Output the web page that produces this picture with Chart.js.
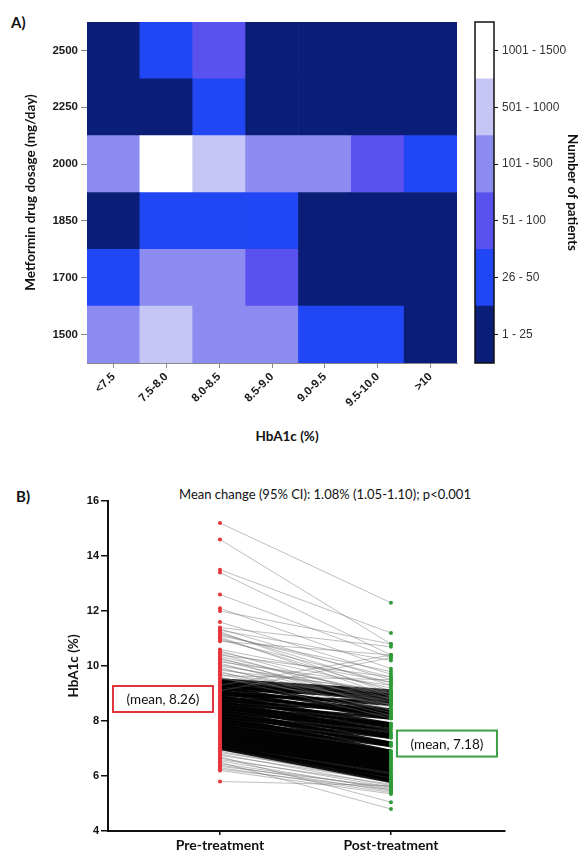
<!DOCTYPE html>
<html>
<head>
<meta charset="utf-8">
<script src="https://cdn.jsdelivr.net/npm/chart.js@4"></script>
<style>
  body { margin: 0; background: #fff; width: 581px; height: 856px; position: relative; overflow: hidden; }
  canvas { position: absolute; }
  .lbl { position: absolute; font-family: Lato, sans-serif; color: #111; white-space: nowrap; }
</style>
</head>
<body>
<div class="lbl" style="left:11px; top:13px; font-weight:bold; font-size:15px;">A)</div>
<div class="lbl" style="left:287px; top:428px; transform:translateX(-50%); font-weight:bold; font-size:13.5px;">HbA1c (%)</div>
<div class="lbl" style="left:16px; top:487px; font-weight:bold; font-size:15px;">B)</div>
<div class="lbl" style="left:325px; top:486px; transform:translateX(-50%); font-size:13px;">Mean change (95% CI): 1.08% (1.05-1.10); p&lt;0.001</div>

<div style="position:absolute; left:0; top:0; width:470px; height:460px;"><canvas id="heatmap"></canvas></div>
<div style="position:absolute; left:460px; top:0; width:121px; height:460px;"><canvas id="colorbar"></canvas></div>
<div style="position:absolute; left:0; top:470px; width:581px; height:386px;"><canvas id="paired"></canvas></div>

<script>
// Panel A: patient count bin per cell (1 = 1-25 ... 6 = 1001-1500)
const hba1cBins = ['<7.5', '7.5-8.0', '8.0-8.5', '8.5-9.0', '9.0-9.5', '9.5-10.0', '>10'];
const dosages = ['1500', '1700', '1850', '2000', '2250', '2500'];
const bins1500 = [4, 5, 4, 4, 2, 2, 1];
const bins1700 = [2, 4, 4, 3, 1, 1, 1];
const bins1850 = [1, 2, 2, 2, 1, 1, 1];
const bins2000 = [4, 6, 5, 4, 4, 3, 2];
const bins2250 = [1, 1, 2, 1, 1, 1, 1];
const bins2500 = [1, 2, 3, 1, 1, 1, 1];
const patientBins = ['1 - 25', '26 - 50', '51 - 100', '101 - 500', '501 - 1000', '1001 - 1500'];
const binColors = ['#0a1e78', '#2146f4', '#5a52ee', '#8c8cf0', '#c6c6f6', '#ffffff'];

// Panel B: HbA1c (%) pre/post pairs
const treatmentLabels = ['Pre-treatment', 'Post-treatment'];
const upperPre = [15.2, 14.6, 13.5, 13.4, 12.6, 12.1, 12.0, 11.6, 11.4, 11.35, 11.3, 11.25, 11.2, 11.15, 11.1, 11.05, 11.0, 10.95, 10.9,
  10.6, 10.55, 10.5, 10.45, 10.4, 10.35, 10.3, 10.25, 10.2, 10.15, 10.1, 10.05, 10.0, 9.95, 9.9, 9.85, 9.8, 9.75, 9.7, 9.65, 9.6, 9.55, 9.3, 9.1];
const upperPost = [12.3, 10.8, 11.2, 10.4, 10.3, 9.9, 10.8, 9.7, 10.7, 9.5, 10.2, 9.0, 9.3, 9.6, 9.8, 8.9, 9.1, 9.4, 10.4,
  9.4, 8.8, 9.2, 8.6, 9.6, 8.9, 8.4, 9.0, 8.7, 9.3, 8.5, 8.8, 9.0, 8.3, 8.6, 9.1, 8.2, 8.7, 8.4, 9.5, 8.1, 8.6, 10.4, 10.3];
const densePre = [9.5, 9.45, 9.4, 9.35, 9.3, 9.25, 9.2, 9.15, 9.1, 9.05, 9.0, 8.95, 8.9, 8.85, 8.8, 8.75, 8.7, 8.65, 8.6, 8.55, 8.5,
  8.45, 8.4, 8.35, 8.3, 8.25, 8.2, 8.15, 8.1, 8.05, 8.0, 7.95, 7.9, 7.85, 7.8, 7.75, 7.7, 7.65, 7.6, 7.55, 7.5,
  7.45, 7.4, 7.35, 7.3, 7.25, 7.2, 7.15, 7.1, 7.05, 7.0];
const densePost = [9.1, 8.7, 9.0, 8.4, 8.95, 8.8, 8.3, 8.9, 8.1, 8.6, 8.2, 8.7, 7.9, 8.4, 7.8, 8.3, 7.6, 8.1, 7.5, 7.9, 7.4,
  7.8, 7.2, 7.7, 7.1, 7.5, 6.9, 7.4, 6.8, 7.2, 6.7, 7.1, 6.6, 6.9, 6.5, 6.8, 6.4, 6.7, 6.3, 6.6, 6.2,
  6.5, 6.1, 6.4, 6.0, 6.3, 5.9, 6.2, 5.85, 6.0, 5.8];
const lowerPre = [6.95, 6.9, 6.85, 6.8, 6.75, 6.7, 6.65, 6.6, 6.55, 6.5, 6.45, 6.4, 6.35, 6.3, 6.25, 6.2, 5.8];
const lowerPost = [6.0, 5.75, 5.9, 5.65, 5.8, 5.05, 5.6, 5.7, 5.5, 4.8, 5.55, 5.45, 5.6, 5.4, 5.5, 5.35, 5.65];
const meanPre = 8.26;
const meanPost = 7.18;

Chart.defaults.font.family = "'Liberation Sans', Arial, sans-serif";
Chart.defaults.animation = false;
Chart.defaults.plugins.legend.display = false;
Chart.defaults.plugins.tooltip.enabled = false;

function centerTicks(scale) {
    // one tick in the middle of every row
    scale.ticks = dosages.map((d, i) => ({ value: i + 0.5 }));
}

// ---- heatmap ----
const rowBins = [bins1500, bins1700, bins1850, bins2000, bins2250, bins2500];
new Chart(document.getElementById('heatmap'), {
    type: 'bar',
    data: {
        labels: hba1cBins,
        datasets: rowBins.map((row, i) => ({
            label: dosages[i],
            data: row.map(() => 1),
            backgroundColor: row.map(b => binColors[b - 1]),
            borderWidth: 0,
            barPercentage: 1,
            categoryPercentage: 1
        }))
    },
    options: {
        responsive: true,
        maintainAspectRatio: false,
        layout: { padding: { top: 22, right: 13, left: 0, bottom: 0 } },
        scales: {
            x: {
                stacked: true,
                afterFit: s => { s.height = 97; },
                grid: { offset: false, drawOnChartArea: false, tickLength: 5, color: '#888' },
                border: { color: '#888' },
                ticks: { minRotation: 45, maxRotation: 45, padding: 2, color: '#1a1a1a', font: { size: 11.5, weight: 'bold' } }
            },
            y: {
                stacked: true,
                min: 0,
                max: 6,
                afterFit: s => { s.width = 87; },
                afterBuildTicks: centerTicks,
                grid: { drawOnChartArea: false, tickLength: 6, color: '#888' },
                border: { color: '#888' },
                ticks: { padding: 3, color: '#1a1a1a', font: { size: 11.5, weight: 'bold' },
                    callback: v => dosages[Math.floor(v)] },
                title: { display: true, text: 'Metformin drug dosage (mg/day)', color: '#111',
                    padding: { top: 23 }, font: { family: 'Lato', size: 13.5, weight: 'bold' } }
            }
        }
    }
});

// ---- colour key ----
const frame = {
    id: 'frame',
    afterDraw(chart) {
        const a = chart.chartArea, ctx = chart.ctx;
        ctx.save();
        ctx.strokeStyle = '#111';
        ctx.lineWidth = 1.5;
        ctx.strokeRect(a.left, a.top, a.right - a.left, a.bottom - a.top);
        ctx.restore();
    }
};
new Chart(document.getElementById('colorbar'), {
    type: 'bar',
    data: {
        labels: ['key'],
        datasets: patientBins.map((b, i) => ({
            label: b,
            data: [1],
            backgroundColor: binColors[i],
            borderWidth: 0,
            barPercentage: 1,
            categoryPercentage: 1
        }))
    },
    options: {
        responsive: true,
        maintainAspectRatio: false,
        layout: { padding: { top: 22, right: 0, left: 15, bottom: 97 } },
        scales: {
            x: { stacked: true, display: false },
            y: {
                stacked: true,
                position: 'right',
                min: 0,
                max: 6,
                afterFit: s => { s.width = 87; },
                afterBuildTicks: centerTicks,
                grid: { drawOnChartArea: false, tickLength: 4, color: '#111' },
                border: { display: false },
                ticks: { padding: 4, color: '#333', font: { size: 12 },
                    callback: v => patientBins[Math.floor(v)] },
                title: { display: true, text: 'Number of patients', color: '#111',
                    padding: { top: 1 }, font: { family: 'Lato', size: 13.5, weight: 'bold' } }
            }
        }
    },
    plugins: [frame]
});

// ---- paired HbA1c plot ----
function pairLines(pre, post, color, width) {
    return pre.map((v, i) => ({
        data: [{ x: 1, y: v }, { x: 2, y: post[i] }],
        showLine: true,
        borderColor: color,
        borderWidth: width,
        pointRadius: 0,
        order: 2
    }));
}
const allPre = upperPre.concat(densePre, lowerPre);
const allPost = upperPost.concat(densePost, lowerPost);

const meanBoxes = {
    id: 'meanBoxes',
    afterDatasetsDraw(chart) {
        const { ctx, scales: { x, y } } = chart;
        const boxes = [
            { text: '(mean, ' + meanPre.toFixed(2) + ')', color: '#e0363b', left: x.getPixelForValue(1) - 107, cy: y.getPixelForValue(8.8) },
            { text: '(mean, ' + meanPost.toFixed(2) + ')', color: '#3d9f45', left: x.getPixelForValue(2) + 6, cy: y.getPixelForValue(meanPost) }
        ];
        ctx.save();
        ctx.font = "13.5px Lato";
        boxes.forEach(b => {
            ctx.fillStyle = '#fff';
            ctx.fillRect(b.left, b.cy - 13, 100, 26);
            ctx.strokeStyle = b.color;
            ctx.lineWidth = 2;
            ctx.strokeRect(b.left, b.cy - 13, 100, 26);
            ctx.fillStyle = '#111';
            ctx.textAlign = 'center';
            ctx.textBaseline = 'middle';
            ctx.fillText(b.text, b.left + 50, b.cy + 1);
        });
        ctx.restore();
    }
};

new Chart(document.getElementById('paired'), {
    type: 'scatter',
    data: {
        datasets: [
            {
                data: allPre.map(v => ({ x: 1, y: v })),
                backgroundColor: '#e8353b',
                borderWidth: 0,
                pointRadius: 2,
                order: 0
            },
            {
                data: allPost.map(v => ({ x: 2, y: v })),
                backgroundColor: '#2f9a3a',
                borderWidth: 0,
                pointRadius: 2,
                order: 0
            }
        ].concat(
            pairLines(upperPre, upperPost, 'rgba(110,110,110,0.45)', 1),
            pairLines(densePre, densePost, 'rgba(0,0,0,0.9)', 3),
            pairLines(lowerPre, lowerPost, 'rgba(110,110,110,0.45)', 1)
        )
    },
    options: {
        responsive: true,
        maintainAspectRatio: false,
        layout: { padding: { top: 31, right: 76, left: 0, bottom: 0 } },
        scales: {
            x: {
                type: 'linear',
                min: 0.345,
                max: 2.667,
                afterFit: s => { s.height = 25; },
                afterBuildTicks: s => { s.ticks = [{ value: 1 }, { value: 2 }]; },
                grid: { drawOnChartArea: false, tickLength: 4, color: '#111', lineWidth: 1.5 },
                border: { color: '#111', width: 2 },
                ticks: { padding: 2, color: '#111', font: { family: 'Lato', size: 14, weight: 'bold' },
                    callback: v => treatmentLabels[v - 1] }
            },
            y: {
                min: 4,
                max: 16,
                afterFit: s => { s.width = 108; },
                grid: { drawOnChartArea: false, tickLength: 7, color: '#111', lineWidth: 1.5 },
                border: { color: '#111', width: 2 },
                ticks: { stepSize: 2, padding: 2, color: '#111', font: { size: 11, weight: 'bold' } },
                title: { display: true, text: 'HbA1c (%)', color: '#111',
                    padding: { top: 66 }, font: { family: 'Lato', size: 13.5, weight: 'bold' } }
            }
        }
    },
    plugins: [meanBoxes]
});
</script>
</body>
</html>
